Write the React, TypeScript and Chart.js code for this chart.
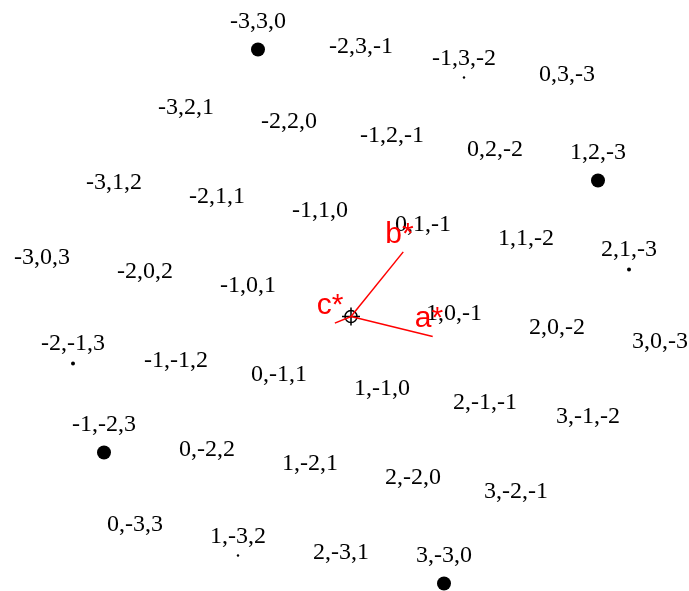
import React, { useEffect, useRef } from "react";
import { Chart, registerables } from "chart.js";

Chart.register(...registerables);

// Reciprocal lattice reflections (h,k,l) in the zone, labelled on the pattern
const reflections = [
  "-3,3,0", "-2,3,-1", "-1,3,-2", "0,3,-3",
  "-3,2,1", "-2,2,0", "-1,2,-1", "0,2,-2", "1,2,-3",
  "-3,1,2", "-2,1,1", "-1,1,0", "0,1,-1", "1,1,-2", "2,1,-3",
  "-3,0,3", "-2,0,2", "-1,0,1", "1,0,-1", "2,0,-2", "3,0,-3",
  "-2,-1,3", "-1,-1,2", "0,-1,1", "1,-1,0", "2,-1,-1", "3,-1,-2",
  "-1,-2,3", "0,-2,2", "1,-2,1", "2,-2,0", "3,-2,-1",
  "0,-3,3", "1,-3,2", "2,-3,1", "3,-3,0",
];
// Spot intensities (marker radius classes)
const strongSpots = ["-3,3,0", "1,2,-3", "-1,-2,3", "3,-3,0"];
const weakSpots = ["2,1,-3", "-2,-1,3"];
const faintSpots = ["-1,3,-2", "1,-3,2"];

// Projected reciprocal basis vectors (x right, y up)
const aStar = [86, -21];
const bStar = [55, 68];
const cStar = [-17, -7];
const axisNames = ["a*", "b*", "c*"];

const W = 689;
const H = 591;
const CX = 351;
const CY = 316.5;

function project(label: string) {
  const [h, k, l] = label.split(",").map(Number);
  return {
    x: h * aStar[0] + k * bStar[0] + l * cStar[0],
    y: h * aStar[1] + k * bStar[1] + l * cStar[1],
  };
}

function radiusOf(label: string) {
  if (strongSpots.includes(label)) return 7;
  if (weakSpots.includes(label)) return 2;
  if (faintSpots.includes(label)) return 1.2;
  return 0;
}

export default function App() {
  const ref = useRef<HTMLCanvasElement | null>(null);
  useEffect(() => {
    document.body.style.margin = "0";
    const canvas = ref.current!;
    const pts = reflections.map((r) => ({ ...project(r), label: r }));
    const axes = [aStar, bStar, cStar];
    const axisLen = 0.95;

    const labelPlugin = {
      id: "labels",
      afterDatasetsDraw(chart: any) {
        const ctx = chart.ctx;
        const xs = chart.scales.x;
        const ys = chart.scales.y;
        ctx.save();
        ctx.fillStyle = "#000";
        ctx.font = '24px "Liberation Serif"';
        ctx.textAlign = "center";
        ctx.textBaseline = "middle";
        pts.forEach((p) => {
          const px = xs.getPixelForValue(p.x);
          const py = ys.getPixelForValue(p.y);
          const r = radiusOf(p.label);
          ctx.fillText(p.label, px, py - 17 - 1.5 * r);
        });
        ctx.fillStyle = "#ff0000";
        ctx.font = '30px "Liberation Sans"';
        ctx.textAlign = "left";
        ctx.textBaseline = "alphabetic";
        axes.forEach((v, i) => {
          const px = xs.getPixelForValue(v[0] * axisLen);
          const py = ys.getPixelForValue(v[1] * axisLen);
          ctx.fillText(axisNames[i], px - 18, py - 9);
        });
        ctx.restore();
      },
    };

    const axisDatasets = axes.map((v) => ({
      type: "scatter" as const,
      data: [
        { x: 0, y: 0 },
        { x: v[0] * axisLen, y: v[1] * axisLen },
      ],
      showLine: true,
      borderColor: "#ff0000",
      borderWidth: 1.5,
      pointRadius: 0,
    }));

    const chart = new Chart(canvas, {
      type: "scatter",
      data: {
        datasets: [
          ...axisDatasets,
          {
            data: pts.map((p) => ({ x: p.x, y: p.y })),
            backgroundColor: "#000",
            borderColor: "#000",
            borderWidth: 0,
            pointRadius: pts.map((p) => radiusOf(p.label)),
            pointStyle: "circle",
          },
          {
            data: [{ x: 0, y: 0 }],
            pointStyle: "circle",
            pointRadius: 6,
            backgroundColor: "rgba(0,0,0,0)",
            borderColor: "#000",
            borderWidth: 1.5,
          },
          {
            data: [{ x: 0, y: 0 }],
            pointStyle: "cross",
            pointRadius: 9,
            borderColor: "#000",
            borderWidth: 1.5,
          },
        ],
      },
      options: {
        animation: false,
        responsive: false,
        maintainAspectRatio: false,
        layout: { padding: 0, autoPadding: false },
        plugins: { legend: { display: false }, tooltip: { enabled: false } },
        scales: {
          x: { type: "linear", display: false, min: -CX, max: W - CX },
          y: { type: "linear", display: false, min: -(H - CY), max: CY },
        },
      },
      plugins: [labelPlugin],
    });
    return () => chart.destroy();
  }, []);
  return (
    <div style={{ width: W, height: H, background: "#fff" }}>
      <canvas ref={ref} width={W} height={H} style={{ display: "block" }} />
    </div>
  );
}
